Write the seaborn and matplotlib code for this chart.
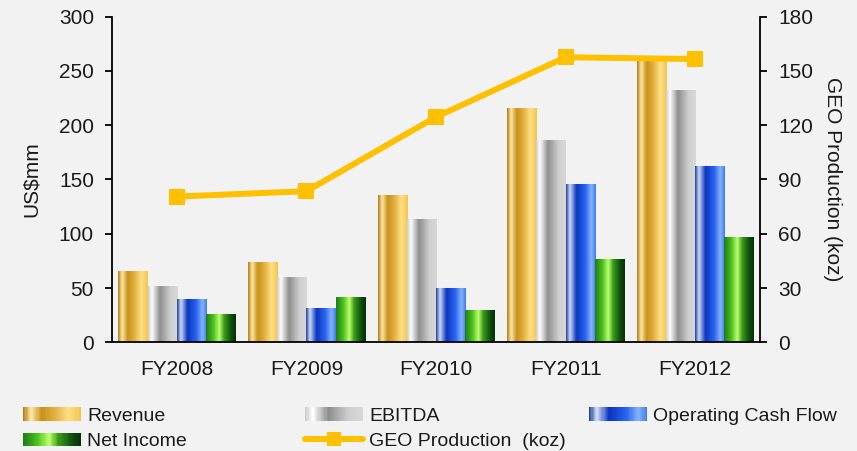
import numpy as np
import pandas as pd
import matplotlib
matplotlib.use("Agg")
import matplotlib.pyplot as plt
import seaborn as sns
from matplotlib.colors import LinearSegmentedColormap
from matplotlib.patches import Rectangle
from matplotlib.lines import Line2D
from matplotlib.legend_handler import HandlerBase

# ---------------- data ----------------
years = ["FY2008", "FY2009", "FY2010", "FY2011", "FY2012"]
revenue = [65, 73, 135, 215, 260]
ebitda = [51, 59, 113, 186, 232]
operating_cf = [39, 31, 49, 145, 162]
net_income = [25, 41, 29, 76, 96]
geo_production = [80.5, 83.5, 124.5, 157.5, 156.5]

metrics = ["Revenue", "EBITDA", "Operating Cash Flow", "Net Income"]
line_label = "GEO Production  (koz)"

# ---------------- style ----------------
sns.set_theme(style="white")
plt.rcParams["font.family"] = ["Liberation Sans", "DejaVu Sans"]

grad_stops = {
    "Revenue": [(0.0, "#b07a10"), (0.14, "#ffe9a8"), (0.32, "#c8921a"),
                (0.55, "#e2b040"), (0.78, "#ffe084"), (1.0, "#f2c450")],
    "EBITDA": [(0.0, "#c8c8c8"), (0.13, "#ffffff"), (0.40, "#8e8e8e"),
               (0.75, "#cfcfcf"), (1.0, "#d8d8d8")],
    "Operating Cash Flow": [(0.0, "#1a3a9a"), (0.13, "#cfdcf5"), (0.35, "#0a35c0"),
                            (0.65, "#2a66f0"), (0.85, "#86b4ff"), (1.0, "#3d7af0")],
    "Net Income": [(0.0, "#1f7a1a"), (0.25, "#4cc21c"), (0.45, "#c0ff70"),
                   (0.60, "#3aa01a"), (0.85, "#0f4a0f"), (1.0, "#063006")],
}
cmaps = {k: LinearSegmentedColormap.from_list(k, v) for k, v in grad_stops.items()}
solid = {"Revenue": "#e0ae3a", "EBITDA": "#b0b0b0",
         "Operating Cash Flow": "#1e55e0", "Net Income": "#2a9a1a"}
line_color = "#ffc000"

df = pd.DataFrame({
    "Year": years * 4,
    "Metric": np.repeat(metrics, len(years)),
    "Value": revenue + ebitda + operating_cf + net_income,
})

fig = plt.figure(figsize=(8.57, 4.51), dpi=100, facecolor="#f2f2f2")
ax = fig.add_axes([112 / 857, 1 - 342.3 / 451, (760 - 112) / 857, (342.3 - 16.5) / 451])
ax.set_facecolor("none")

sns.barplot(data=df, x="Year", y="Value", hue="Metric", hue_order=metrics,
            order=years, palette=solid, width=0.9, saturation=1,
            legend=False, ax=ax)

# gradient fill for each bar
grad = np.linspace(0, 1, 256).reshape(1, -1)
for metric, container in zip(metrics, ax.containers):
    for patch in container.patches:
        x0, y0 = patch.get_x(), patch.get_y()
        w, h = patch.get_width(), patch.get_height()
        ax.imshow(grad, extent=[x0, x0 + w, y0, y0 + h], aspect="auto",
                  cmap=cmaps[metric], interpolation="bicubic", zorder=2)
        patch.set_visible(False)

ax.set_xlim(-0.5, len(years) - 0.5)
ax.set_ylim(0, 300)
ax.set_yticks(np.arange(0, 301, 50))
ax.set_xticks(np.arange(len(years)))
ax.set_xticklabels(years)
ax.set_xticks(np.arange(-0.5, len(years), 1), minor=True)
ax.set_xlabel("")
ax.set_ylabel("US$mm", fontsize=15, labelpad=13, color="#1a1a1a")
ax.tick_params(axis="x", which="major", length=0, pad=13, labelsize=15, labelcolor="#1a1a1a")
ax.tick_params(axis="x", which="minor", length=6, width=1.3, color="black", direction="out")
ax.tick_params(axis="y", length=5, width=1.3, color="black", direction="out",
               pad=8, labelsize=15, labelcolor="#1a1a1a", left=True)
for s in ["left", "bottom"]:
    ax.spines[s].set_color("black")
    ax.spines[s].set_linewidth(1.3)
ax.spines["top"].set_visible(False)
ax.spines["right"].set_visible(False)

# secondary axis line
ax2 = ax.twinx()
sns.lineplot(x=np.arange(len(years)), y=geo_production, ax=ax2, color=line_color,
             linewidth=4.3, marker="s", markersize=11.5, markeredgecolor=line_color,
             markeredgewidth=0, zorder=5)
ax2.set_ylim(0, 180)
ax2.set_yticks(np.arange(0, 181, 30))
ax2.set_xlim(-0.5, len(years) - 0.5)
ax2.set_ylabel("GEO Production (koz)", fontsize=15, rotation=270, labelpad=21, color="#1a1a1a")
ax2.tick_params(axis="y", length=5, width=1.3, color="black", direction="out",
                pad=8, labelsize=15, labelcolor="#1a1a1a", right=True)
ax2.spines["right"].set_color("black")
ax2.spines["right"].set_linewidth(1.3)
for s in ["top", "left", "bottom"]:
    ax2.spines[s].set_visible(False)


# ---------------- legend ----------------
class GradHandle:
    def __init__(self, cmap):
        self.cmap = cmap


class GradHandler(HandlerBase):
    def create_artists(self, legend, orig_handle, xdescent, ydescent, width, height,
                       fontsize, trans):
        n = 48
        arts = []
        for i in range(n):
            r = Rectangle((-xdescent + width * i / n, -ydescent), width / n * 1.05, height,
                          facecolor=orig_handle.cmap((i + 0.5) / n), edgecolor="none",
                          transform=trans)
            arts.append(r)
        return arts


handles = {m: GradHandle(cmaps[m]) for m in metrics}
line_handle = Line2D([], [], color=line_color, linewidth=4.3, marker="s",
                     markersize=10, markeredgewidth=0)

legend_kw = dict(frameon=False, fontsize=14, handlelength=3.0, handleheight=0.72,
                 handletextpad=0.3, labelspacing=0.4, borderpad=0, borderaxespad=0,
                 handler_map={GradHandle: GradHandler()})
cols = [
    (23, [handles["Revenue"], handles["Net Income"]], ["Revenue", "Net Income"]),
    (305, [handles["EBITDA"], line_handle], ["EBITDA", line_label]),
    (589, [handles["Operating Cash Flow"]], ["Operating Cash Flow"]),
]
for xpx, hs, ls in cols:
    leg = fig.legend(hs, ls, loc="upper left",
                     bbox_to_anchor=(xpx / 857, 1 - 407 / 451), **legend_kw)
    for t in leg.get_texts():
        t.set_color("#1a1a1a")

fig.savefig("out.png", dpi=100, facecolor=fig.get_facecolor())
